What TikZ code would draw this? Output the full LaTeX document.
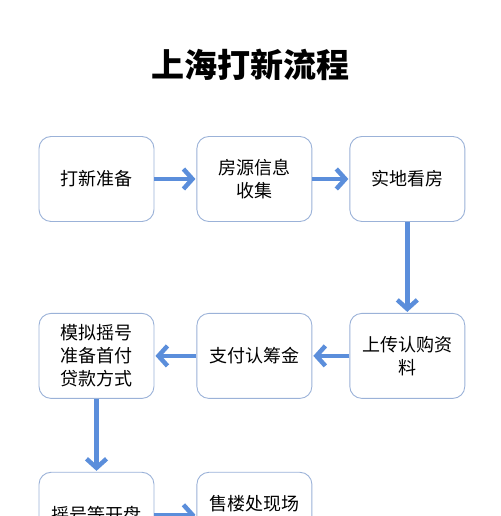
\documentclass[tikz,border=0pt]{standalone}
\usepackage{fontspec}
\setmainfont{Noto Sans CJK SC}
\usetikzlibrary{arrows.meta, positioning}
\definecolor{flowBlue}{HTML}{5B8EDB}
\definecolor{boxLine}{HTML}{9BB2D8}

\begin{document}
\begin{tikzpicture}[
    x=1pt, y=1pt,
    node distance=40pt,
    stepbox/.style={draw=boxLine, rounded corners=12pt, minimum width=115pt,
                  minimum height=85pt, font=\fontsize{18}{23}\selectfont,
                  align=center, line width=0.9pt, fill=white},
    arrow/.style={-{Straight Barb[length=9pt, width=20pt]}, line width=4.5pt,
                  draw=flowBlue, shorten >=1pt},
]
\clip (0,0) rectangle (500,516);
\node[font=\fontsize{33}{38}\selectfont\bfseries] (title) at (250,451) {上海打新流程};

\node[stepbox] (prep) at (96.5,337) {打新准备};
\node[stepbox, right=42pt of prep] (info) {房源信息\\收集};
\node[stepbox, right=37pt of info] (visit) {实地看房};
\node[stepbox, below=91pt of visit] (upload) {上传认购资\\料};
\node[stepbox, below=91pt of info] (pay) {支付认筹金};
\node[stepbox, below=91pt of prep] (mock) {模拟摇号\\准备首付\\贷款方式};
\node[stepbox, below=73pt of mock] (lottery) {摇号等开盘};
\node[stepbox, right=42pt of lottery] (sign) {售楼处现场\\材料签约};

\draw[arrow] (prep) -- (info);
\draw[arrow] (info) -- (visit);
\draw[arrow] (visit) -- (upload);
\draw[arrow] (upload) -- (pay);
\draw[arrow] (pay) -- (mock);
\draw[arrow] (mock) -- (lottery);
\draw[arrow] (lottery) -- (sign);
\end{tikzpicture}
\end{document}
